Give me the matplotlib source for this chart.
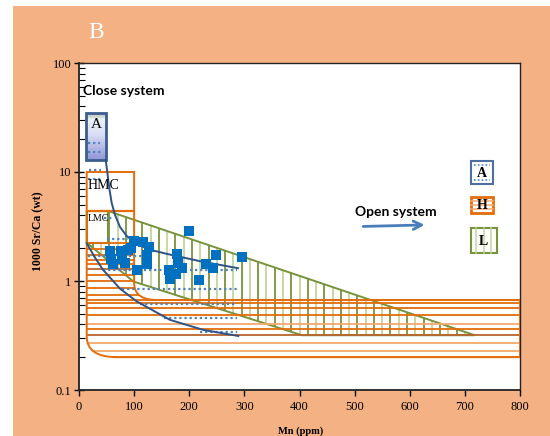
import numpy as np
import matplotlib
matplotlib.use("Agg")
import matplotlib.pyplot as plt
from matplotlib.path import Path
from matplotlib.patches import PathPatch, Rectangle, Polygon
from matplotlib.colors import LinearSegmentedColormap
from matplotlib.ticker import NullFormatter

# ---------------- data ----------------
mn_ppm = [199, 100, 116, 127, 56, 76, 89, 94, 178, 248, 296, 123, 58, 78, 123,
          180, 187, 230, 243, 163, 176, 165, 218, 105, 62, 83]
sr_ca = [2.88, 2.33, 2.28, 2.05, 1.88, 1.88, 1.92, 2.01, 1.77, 1.73, 1.66, 1.73,
         1.59, 1.59, 1.43, 1.46, 1.32, 1.43, 1.32, 1.26, 1.16, 1.04, 1.02, 1.26,
         1.43, 1.46]

# upper / lower closed-system curves (blue)
curve_hi_x = [48.4, 51.3, 55.0, 59.3, 65.3, 74.4, 86.5, 98, 110.6, 123, 160, 219.5, 288.5]
curve_hi_y = [12.9, 10.0, 7.1, 5.2, 4.04, 3.13, 2.59, 2.33, 2.14, 1.97, 1.77, 1.52, 1.31]
curve_lo_x = [14, 29, 44, 74.4, 104.7, 165, 225.5, 289]
curve_lo_y = [2.22, 1.64, 1.26, 0.85, 0.65, 0.44, 0.356, 0.313]

# aragonite field dotted lines (y, x start, x end)
arag_y = [18.5, 15.2, 10.4, 8.6, 3.78, 2.45, 1.69, 1.26, 0.853, 0.615, 0.458, 0.344]
arag_x0 = [16, 16, 18, 16, 45, 51, 16, 44, 78, 110, 155, 220]
arag_x1 = [38, 40, 40, 38, 60, 89, 134, 287, 287, 287, 287, 287]

# box A
boxA_x = [13, 49]
boxA_y = [12.9, 34.8]
# HMC box
hmc_x = [14, 100]
hmc_y = [4.43, 10]
# LMC (green) box
lmc_x = [14, 53]
lmc_y = [2.25, 4.38]

# LMC open-system field (green)
green_x = [53, 718, 404.5, 98.5, 14, 14]
green_y = [4.38, 0.318, 0.318, 0.99, 2.25, 4.38]
green_hatch_x = list(range(25, 720, 15))

# HMC field (orange)
orange_levels = [2.25, 1.97, 1.75, 1.56, 1.42, 1.28, 1.14, 0.99, 0.86, 0.74, 0.67,
                 0.63, 0.565, 0.49, 0.40, 0.36, 0.32, 0.27, 0.23, 0.2]
orange_shade = ['d', 'd', 'd', 'd', 'd', 'b', 'd', 'd', 'd', 'd', 'd',
                'd', 'd', 'd', 'l', 'd', 'b', 'l', 'l', 'd']

xticks = [0, 100, 200, 300, 400, 500, 600, 700, 800]
yticks = [0.1, 1, 10, 100]
ytick_labels = ['0.1', '1', '10', '100']

# ---------------- colours ----------------
BG = '#F4B183'
ORANGE = '#E46C0A'
ORANGE_L = '#F5A86E'
ORANGE_B = '#B9652E'
GREEN = '#77933C'
GREEN_L = '#C3D69B'
NAVY = '#2F5287'
DOTBLUE = '#4F81BD'
PTBLUE = '#0070C0'

plt.rcParams['font.family'] = ['Liberation Serif', 'DejaVu Serif']

fig = plt.figure(figsize=(5.5, 4.36), dpi=100)
fig.add_artist(Rectangle((13 / 550, 0), 1 - 13 / 550, 1 - 6 / 436,
                         transform=fig.transFigure, facecolor=BG,
                         edgecolor='none', zorder=-5))

ax = fig.add_axes([79 / 550, 46 / 436, 441 / 550, 327 / 436])
ax.set_facecolor('white')
ax.set_yscale('log')
ax.set_xlim(0, 800)
ax.set_ylim(0.1, 100)

# ---- orange field ----
V = [(hmc_x[0], hmc_y[1]), (hmc_x[1], hmc_y[1]), (hmc_x[1], 0.96),
     (hmc_x[1], 0.67), (141, 0.67), (800, 0.67), (800, 0.2), (69, 0.2),
     (14, 0.2), (14, 0.31), (14, hmc_y[1])]
C = [Path.MOVETO, Path.LINETO, Path.LINETO, Path.CURVE3, Path.CURVE3,
     Path.LINETO, Path.LINETO, Path.LINETO, Path.CURVE3, Path.CURVE3,
     Path.CLOSEPOLY]
opath = Path(V, C)
oclip = PathPatch(opath, transform=ax.transData, facecolor='none', edgecolor='none')
cols = {'d': ORANGE, 'l': ORANGE_L, 'b': ORANGE_B}
hl = ax.hlines(orange_levels, 0, 800, colors=[cols[s] for s in orange_shade],
               linewidth=1.3, zorder=3)
hl.set_clip_path(oclip)
ax.add_patch(PathPatch(opath, facecolor='none', edgecolor=ORANGE, linewidth=1.4, zorder=3.1))
ax.hlines(hmc_y[0], hmc_x[0], hmc_x[1], colors=ORANGE, linewidth=1.6, zorder=3.1)

# ---- green field ----
gpoly = Polygon(list(zip(green_x, green_y)), closed=True, transform=ax.transData,
                facecolor='none', edgecolor='none')
gh_cols = [GREEN if i % 2 == 0 else GREEN_L for i in range(len(green_hatch_x))]
vl = ax.vlines(green_hatch_x, 0.3, 5, colors=gh_cols, linewidth=1.3, zorder=2)
vl.set_clip_path(gpoly)
ax.add_patch(Rectangle((lmc_x[0], lmc_y[0]), lmc_x[1] - lmc_x[0], lmc_y[1] - lmc_y[0],
                       facecolor='white', edgecolor=GREEN, linewidth=1.5, zorder=2.5))
ax.add_patch(Polygon(list(zip(green_x, green_y)), closed=True, facecolor='none',
                     edgecolor=GREEN, linewidth=1.4, zorder=2.6))

# ---- box A with gradient ----
ys = np.geomspace(boxA_y[0], boxA_y[1], 40)
grad = np.linspace(1, 0, 39).reshape(-1, 1)
cmapA = LinearSegmentedColormap.from_list(
    'a', [(0, '#B4BEA8'), (0.12, '#EDF1F8'), (0.45, '#D9DEF5'), (1, '#9396D8')])
ax.pcolormesh(boxA_x, ys, grad, cmap=cmapA, shading='flat', zorder=2.7)
ax.add_patch(Rectangle((boxA_x[0], boxA_y[0]), boxA_x[1] - boxA_x[0],
                       boxA_y[1] - boxA_y[0], facecolor='none', edgecolor='#3C5E8E',
                       linewidth=2, zorder=4))
ax.text(31, 27.5, 'A', ha='center', va='center', fontsize=11, zorder=5)

# ---- aragonite dotted lines ----
ax.hlines(arag_y, arag_x0, arag_x1, colors=DOTBLUE, linewidth=1.6,
          linestyles=(0, (1, 1.3)), zorder=4.5)

# ---- curves ----
ax.plot(curve_hi_x, curve_hi_y, color=NAVY, linewidth=1.4, zorder=5)
ax.plot(curve_lo_x, curve_lo_y, color=NAVY, linewidth=1.4, zorder=5)

# ---- data ----
ax.plot(mn_ppm, sr_ca, linestyle='none', marker='s', markersize=6.5,
        color=PTBLUE, markeredgewidth=0, zorder=6)

# ---- labels inside ----
ax.text(16, 7.45, 'HMC', ha='left', va='center', fontsize=10, zorder=5)
ax.text(15, 3.75, 'LMC', ha='left', va='center', fontsize=7, zorder=5)
ax.text(0.009, 0.914, 'Close system', transform=ax.transAxes, ha='left', va='center',
        fontsize=10, fontweight='bold', family=['Lato', 'DejaVu Sans'], zorder=6)
ax.text(0.718, 0.544, 'Open system', transform=ax.transAxes, ha='center', va='center',
        fontsize=10, fontweight='bold', family=['Lato', 'DejaVu Sans'], zorder=6)
ax.annotate('', xy=(0.790, 0.505), xytext=(0.638, 0.500), xycoords='axes fraction',
            arrowprops=dict(arrowstyle='->,head_length=0.6,head_width=0.3',
                            color='#4A7EBB', lw=2))

# ---- legend boxes ----
ax.add_patch(Rectangle((0.889, 0.630), 0.050, 0.070, transform=ax.transAxes,
                       facecolor='white', edgecolor='#4F6FA0', linewidth=1.5, zorder=6))
for yy in (0.688, 0.641):
    ax.plot([0.895, 0.933], [yy, yy], transform=ax.transAxes, color=DOTBLUE,
            linewidth=1.2, linestyle=(0, (1, 1.3)), zorder=6.5)
ax.text(0.914, 0.662, 'A', transform=ax.transAxes, ha='center', va='center',
        fontsize=10, fontweight='bold', zorder=7)

ax.add_patch(Rectangle((0.889, 0.541), 0.050, 0.049, transform=ax.transAxes,
                       facecolor='white', edgecolor=ORANGE, linewidth=2, zorder=6))
for yy in (0.578, 0.566, 0.553):
    ax.plot([0.889, 0.939], [yy, yy], transform=ax.transAxes, color=ORANGE_L,
            linewidth=1.1, zorder=6.5)
ax.text(0.914, 0.565, 'H', transform=ax.transAxes, ha='center', va='center',
        fontsize=10, fontweight='bold', zorder=7)

ax.add_patch(Rectangle((0.889, 0.419), 0.059, 0.076, transform=ax.transAxes,
                       facecolor='white', edgecolor=GREEN, linewidth=1.5, zorder=6))
for xx in (0.901, 0.918, 0.934):
    ax.plot([xx, xx], [0.419, 0.495], transform=ax.transAxes, color=GREEN_L,
            linewidth=1.1, zorder=6.5)
ax.text(0.918, 0.455, 'L', transform=ax.transAxes, ha='center', va='center',
        fontsize=10, fontweight='bold', zorder=7)

# ---- axes styling ----
ax.set_xticks(xticks)
ax.set_yticks(yticks, labels=ytick_labels)
ax.yaxis.set_minor_formatter(NullFormatter())
ax.tick_params(axis='y', which='major', direction='inout', length=7, width=1,
               labelsize=9, pad=2)
ax.tick_params(axis='y', which='minor', direction='in', length=4, width=0.8)
ax.tick_params(axis='x', which='major', direction='out', length=4, width=1,
               labelsize=9, pad=4)
for s in ax.spines.values():
    s.set_color('#222222')
    s.set_linewidth(1.0)
ax.spines['left'].set_linewidth(1.3)
ax.spines['bottom'].set_linewidth(1.3)

fig.text(38 / 550, 1 - 231 / 436, '1000 Sr/Ca (wt)', rotation=90, ha='center',
         va='center', fontsize=8.5, fontweight='bold')
fig.text(301 / 550, 1 - 431 / 436, 'Mn (ppm)', ha='center', va='center',
         fontsize=7.5, fontweight='bold')
fig.text(96 / 550, 1 - 32 / 436, 'B', ha='center', va='center', fontsize=17,
         color='white')

fig.savefig('out.png', dpi=100)
